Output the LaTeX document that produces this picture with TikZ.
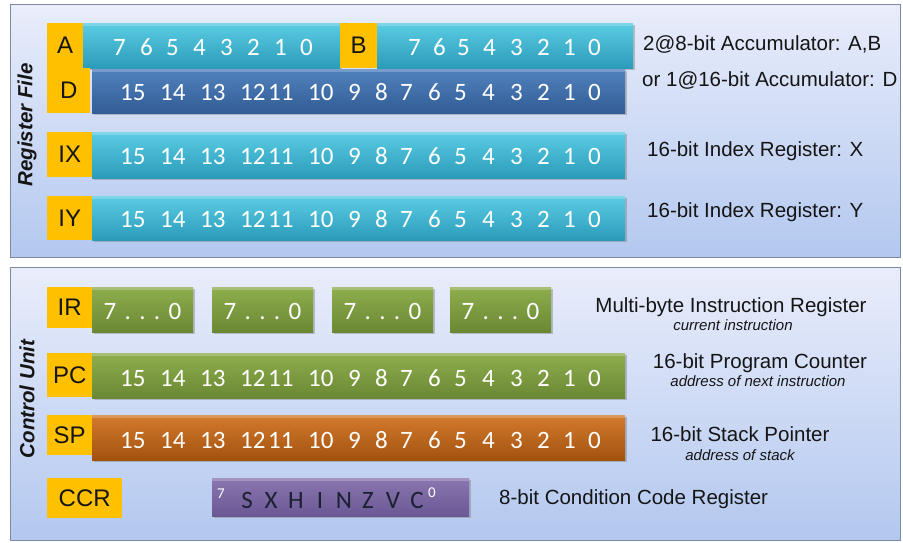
\documentclass[tikz,border=0pt]{standalone}
\usepackage{fontspec}
\setmainfont{Liberation Sans}
\newfontfamily\bitfont{Carlito}
\usetikzlibrary{shadows}

% register colours
\definecolor{panelTop}{HTML}{E9EDFB}
\definecolor{panelBot}{HTML}{B3C8EF}
\definecolor{panelEdge}{HTML}{7F8AA0}
\definecolor{tagYellow}{HTML}{FFC000}
\definecolor{cyanTop}{HTML}{5ACCE3}
\definecolor{cyanBot}{HTML}{2A9CBA}
\definecolor{blueTop}{HTML}{5182BE}
\definecolor{blueBot}{HTML}{325C95}
\definecolor{greenTop}{HTML}{8EAE4D}
\definecolor{greenBot}{HTML}{6A8833}
\definecolor{rustTop}{HTML}{D37A2E}
\definecolor{rustBot}{HTML}{A3520E}
\definecolor{violetTop}{HTML}{8A76B0}
\definecolor{violetBot}{HTML}{6A5894}
\definecolor{inkText}{HTML}{151515}
\definecolor{flagInk}{HTML}{1C2033}

\tikzset{
  panel/.style={draw=panelEdge, line width=1.2bp, top color=panelTop, bottom color=panelBot,
    anchor=north west, inner sep=0pt},
  tag/.style={fill=tagYellow, anchor=north west, inner sep=0pt,
    font=\fontsize{24bp}{28bp}\selectfont, text=inkText},
  regbox/.style={anchor=north west, inner sep=0pt,
    drop shadow={shadow xshift=1.5bp, shadow yshift=-2bp, opacity=0.45},
    path picture={\fill[white, opacity=0.22]
      (path picture bounding box.north west) rectangle
      ([yshift=-3bp]path picture bounding box.north east);}},
  cyanreg/.style={regbox, top color=cyanTop, bottom color=cyanBot},
  bluereg/.style={regbox, top color=blueTop, bottom color=blueBot},
  greenreg/.style={regbox, top color=greenTop, bottom color=greenBot},
  rustreg/.style={regbox, top color=rustTop, bottom color=rustBot},
  violetreg/.style={regbox, top color=violetTop, bottom color=violetBot},
  bit/.style={anchor=base west, inner sep=0pt, text=white,
    font=\bitfont\fontsize{25bp}{29bp}\selectfont},
  flag/.style={anchor=base, inner sep=0pt, text=flagInk,
    font=\bitfont\fontsize{25bp}{29bp}\selectfont},
  flagedge/.style={anchor=base west, inner sep=0pt, text=white,
    font=\bitfont\fontsize{15bp}{18bp}\selectfont},
  desc/.style={anchor=base west, inner sep=0pt, text=inkText,
    font=\fontsize{20.5bp}{24bp}\selectfont},
  desccenter/.style={desc, anchor=base},
  note/.style={anchor=base, inner sep=0pt, text=inkText,
    font=\itshape\fontsize{15bp}{18bp}\selectfont},
  side/.style={rotate=90, inner sep=0pt, text=inkText,
    font=\bfseries\itshape\fontsize{20.5bp}{24bp}\selectfont},
}

% one row of sixteen bit numbers: #1 name prefix, #2 baseline
\newcommand\wordbits[2]{%
  \foreach \n/\x in {15/120,14/160,13/200,12/240,11/268,10/308,9/348,8/375,
                     7/400,6/428,5/454,4/482,3/510,2/537,1/563,0/588}
    {\node[bit] (#1-\n) at (\x,#2) {\n};}%
}

\begin{document}
\begin{tikzpicture}[x=1bp,y=-1bp]
\useasboundingbox (0,0) rectangle (903,543);
\fill[white] (0,0) rectangle (903,543);

% the two panels
\node[panel, minimum width=890bp, minimum height=253bp] (rf) at (10,4) {};
\node[panel, minimum width=890bp, minimum height=273bp] (cu) at (10,267) {};
\node[side] (rfname) at (27,125) {Register File};
\node[side] (cuname) at (27,399) {Control Unit};

% ---------- register file ----------
\node[cyanreg, minimum width=257bp, minimum height=45bp] (rA) at (83,23) {};
\node[cyanreg, minimum width=256bp, minimum height=45bp] (rB) at (377,23) {};
\node[tag, minimum width=36bp, minimum height=45bp] (lA) at (47,23) {A};
\node[tag, minimum width=37bp, minimum height=45bp] (lB) at (340,23) {B};
\foreach \n/\x in {7/113,6/140,5/166,4/193,3/220,2/247,1/274,0/300}
  {\node[bit] (A-\n) at (\x,56) {\n};}
\foreach \n/\x in {7/408,6/433,5/457,4/483,3/510,2/537,1/563,0/588}
  {\node[bit] (B-\n) at (\x,56) {\n};}

\node[bluereg, minimum width=533bp, minimum height=44bp] (rD) at (92,69) {};
\node[tag, minimum width=43bp, minimum height=45bp] (lD) at (47,68) {D};
\wordbits{D}{101}

\node[cyanreg, minimum width=533bp, minimum height=46bp] (rIX) at (92,132) {};
\node[tag, minimum width=45bp, minimum height=45bp] (lIX) at (47,132) {IX};
\wordbits{IX}{165}

\node[cyanreg, minimum width=533bp, minimum height=44bp] (rIY) at (92,196) {};
\node[tag, minimum width=45bp, minimum height=44bp] (lIY) at (47,196) {IY};
\wordbits{IY}{228}

\node[desc] (tAB) at (643,51) {2@8-bit Accumulator: A,B};
\node[desc] (tD) at (642,87) {or 1@16-bit Accumulator: D};
\node[desc] (tIX) at (647,157) {16-bit Index Register: X};
\node[desc] (tIY) at (647,218) {16-bit Index Register: Y};

% ---------- control unit ----------
\foreach \k/\x in {1/92,2/212,3/332,4/450}{
  \node[greenreg, minimum width=101bp, minimum height=45bp] (rIR\k) at (\x,287) {};
  \node[bit, anchor=base] (IR\k) at (\x+50.5,320) {7\,\,.\,\,.\,\,.\,\,0};
}
\node[tag, minimum width=45bp, minimum height=41bp] (lIR) at (47,287) {IR};

\node[greenreg, minimum width=533bp, minimum height=45bp] (rPC) at (92,353) {};
\node[tag, minimum width=45bp, minimum height=44bp] (lPC) at (47,353) {PC};
\wordbits{PC}{386}

\node[rustreg, minimum width=533bp, minimum height=45bp] (rSP) at (92,415) {};
\node[tag, minimum width=45bp, minimum height=40bp] (lSP) at (47,415) {SP};
\wordbits{SP}{448}

\node[violetreg, minimum width=257bp, minimum height=38bp] (rCCR) at (212,478) {};
\node[tag, minimum width=75bp, minimum height=40bp] (lCCR) at (47,478) {CCR};
\node[flagedge] (ccr7) at (217,498) {7};
\foreach \f/\x in {S/247,X/271,H/296,I/320,N/344,Z/368,V/393,C/417}
  {\node[flag] (f-\f) at (\x,508) {\f};}
\node[flagedge] (ccr0) at (428,497) {0};

\node[desccenter] (tIR) at (731,313) {Multi-byte Instruction Register};
\node[note] (nIR) at (733,331) {current instruction};
\node[desccenter] (tPC) at (760,368) {16-bit Program Counter};
\node[note] (nPC) at (758,386) {address of next instruction};
\node[desccenter] (tSP) at (740,441) {16-bit Stack Pointer};
\node[note] (nSP) at (740,460) {address of stack};
\node[desc] (tCCR) at (499,504) {8-bit Condition Code Register};
\end{tikzpicture}
\end{document}
